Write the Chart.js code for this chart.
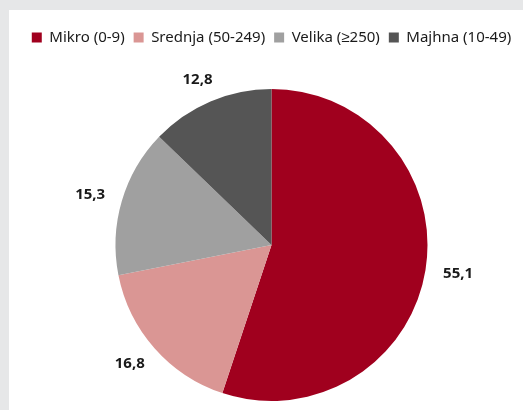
<!DOCTYPE html>
<html>
<head>
<meta charset="utf-8">
<script src="https://cdn.jsdelivr.net/npm/chart.js@4/dist/chart.umd.min.js"></script>
<style>
  html, body { margin: 0; padding: 0; background: #e6e7e8; overflow: hidden; }
  #box { position: absolute; left: 9px; top: 10px; width: 525px; height: 425px; background: #fff; }
</style>
</head>
<body>
<div id="box"><canvas id="pie" width="525" height="425"></canvas></div>
<script>
  const kategorije = ['Mikro (0-9)', 'Srednja (50-249)', 'Velika (≥250)', 'Majhna (10-49)'];
  const deleži = [55.1, 16.8, 15.3, 12.8];
  const barve = ['rgb(160, 0, 30)', 'rgb(218, 150, 148)', 'rgb(160, 160, 160)', 'rgb(85, 85, 85)'];

  //==============================================================
  // oznake vrednosti izven torte
  const oznake = {
    id: 'oznake',
    afterDatasetsDraw(chart) {
      const ctx = chart.ctx;
      const meta = chart.getDatasetMeta(0);
      ctx.save();
      ctx.font = 'bold 15px "Noto Sans", sans-serif';
      ctx.fillStyle = '#1a1a1a';
      ctx.textAlign = 'center';
      ctx.textBaseline = 'middle';
      meta.data.forEach((arc, i) => {
        const besedilo = deleži[i].toFixed(1).replace('.', ',');
        const w = ctx.measureText(besedilo).width;
        const kot = (arc.startAngle + arc.endAngle) / 2;
        const c = Math.cos(kot), s = Math.sin(kot);
        const r = arc.outerRadius + 18;
        const x = arc.x + c * r + c * w / 2;
        const y = arc.y + s * r + s * 5.5;
        ctx.fillText(besedilo, x, y);
      });
      ctx.restore();
    }
  };

  const graf = new Chart(document.getElementById('pie'), {
    type: 'pie',
    data: {
      labels: kategorije,
      datasets: [{
        data: deleži,
        backgroundColor: barve,
        borderWidth: 0,
      }],
    },
    options: {
      responsive: false,
      animation: false,
      radius: 156,
      layout: { padding: { top: 11, left: 0, right: 0, bottom: 0 } },
      plugins: {
        tooltip: { enabled: false },
        legend: {
          position: 'top',
          labels: {
            boxWidth: 10,
            boxHeight: 10,
            padding: 9,
            color: '#1a1a1a',
            font: { family: '"Noto Sans", sans-serif', size: 15 },
          },
        },
      },
    },
    plugins: [oznake],
  });
  //==============================================================
</script>
</body>
</html>
